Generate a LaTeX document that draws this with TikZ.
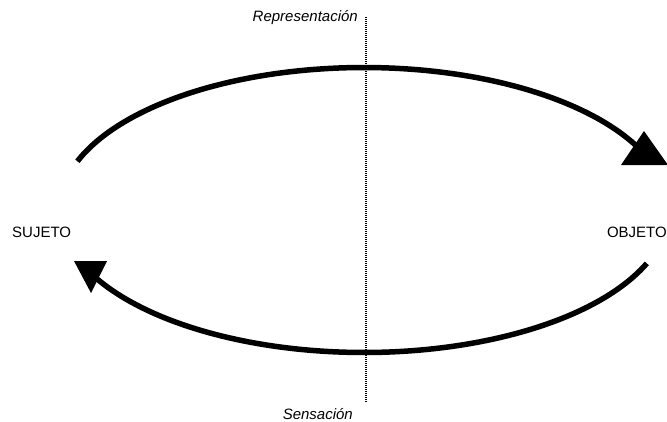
\documentclass[tikz,border=0pt]{standalone}
\usepackage{fontspec}
\setmainfont{Liberation Sans}
\begin{document}
\begin{tikzpicture}[x=1pt,y=-1pt,
  lbl/.style={inner sep=0pt,font=\fontsize{15}{18}\selectfont},
  ilbl/.style={lbl,font=\fontsize{15}{18}\selectfont\itshape},
  arcline/.style={line width=5.5pt,black},
  tiphead/.style={fill=black,draw=none},
  divider/.style={line width=1.3pt,dash pattern=on 1pt off 1pt}]
\useasboundingbox (0,0) rectangle (667,421);
% labels
\node[lbl,anchor=base west] (sujeto) at (12,237) {SUJETO};
\node[lbl,anchor=base east] (objeto) at (667,237) {OBJETO};
\node[ilbl,anchor=base east] (repr) at (358,21) {Representación};
\node[ilbl,anchor=base east] (sens) at (353,419) {Sensación};
% divider
\coordinate (dtop) at (366,17);
\coordinate (dbot) at (366,403);
\draw[divider] (dtop) -- (dbot);
% top arc (sujeto -> objeto)
\draw[arcline] plot[domain=200:335,samples=90] ({364+305*cos(\x)},{210+142.5*sin(\x)});
\coordinate (ta) at (644,131);
\coordinate (tb) at (621,165);
\coordinate (tc) at (668,165);
\fill[tiphead] (ta) -- (tb) -- (tc) -- cycle;
% bottom arc (objeto -> sujeto)
\draw[arcline] plot[domain=22:153,samples=90] ({364+305*cos(\x)},{210+142.5*sin(\x)});
\coordinate (ba) at (74,261);
\coordinate (bb) at (107,261);
\coordinate (bc) at (91,293);
\fill[tiphead] (ba) -- (bb) -- (bc) -- cycle;
\end{tikzpicture}
\end{document}
